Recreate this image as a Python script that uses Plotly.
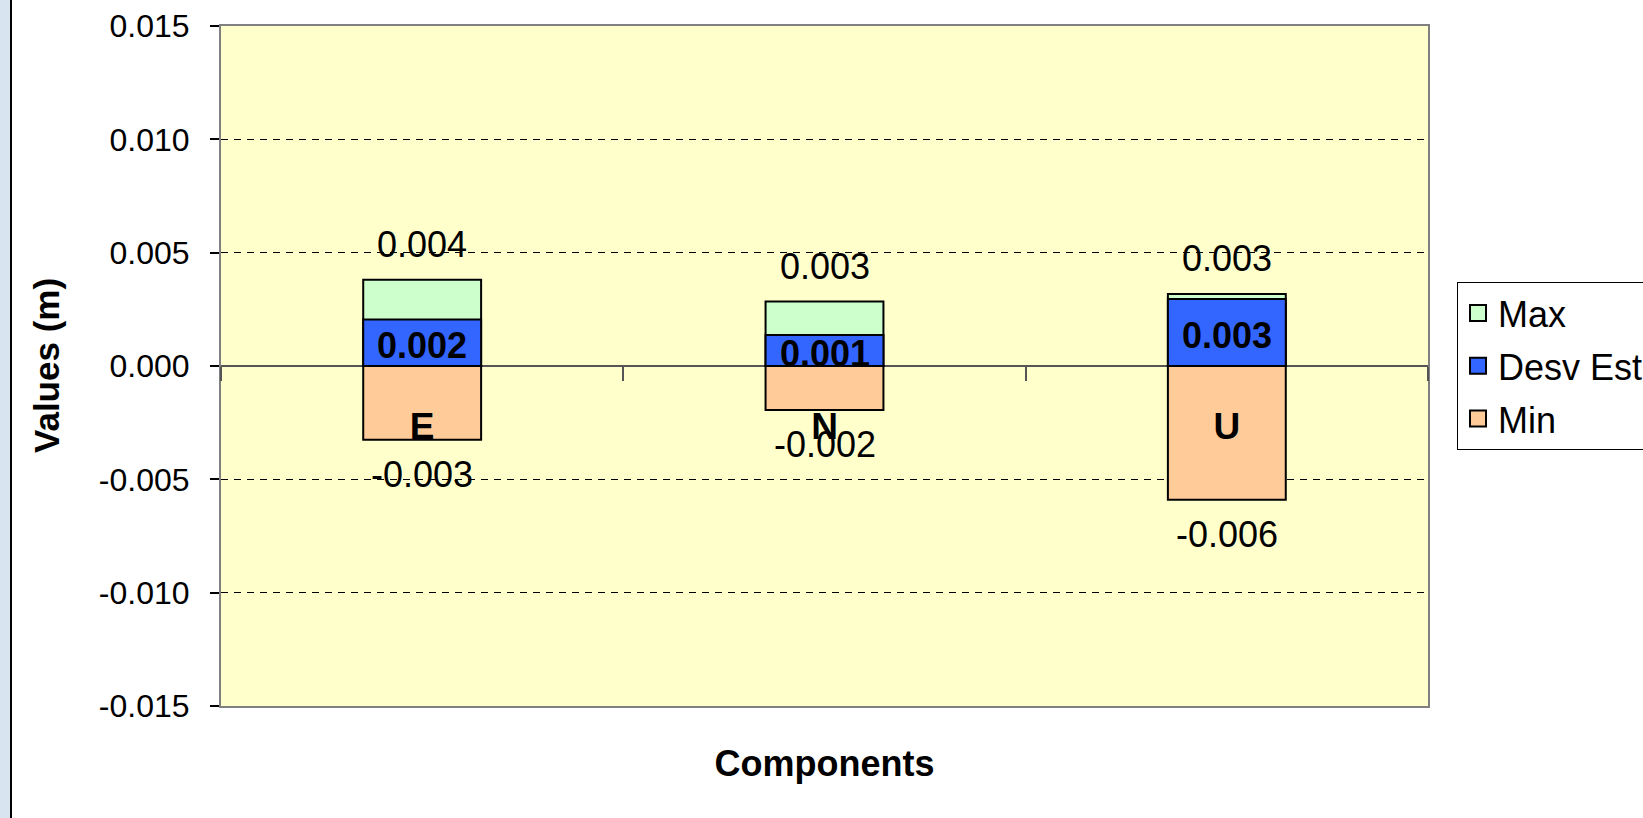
import plotly.graph_objects as go

# ---- data ----
categories = ["E", "N", "U"]
max_vals = [0.0038, 0.00285, 0.00318]
desv_vals = [0.00205, 0.00137, 0.00296]
min_vals = [-0.00325, -0.00194, -0.0059]

y_tickvals = [-0.015, -0.010, -0.005, 0.0, 0.005, 0.010, 0.015]
y_ticktext = ["-0.015", "-0.010", "-0.005", "0.000", "0.005", "0.010", "0.015"]

series_names = ["Max", "Desv Est", "Min"]
series_colors = ["#CCFFCC", "#3366FF", "#FFCC99"]

FONT = "Liberation Sans, Arial, sans-serif"
W, H = 1643, 818
ML, MR, MT, MB = 221, 215, 26, 112
PW = W - ML - MR
ymin, ymax = -0.015, 0.015

fig = go.Figure()

series_vals = [max_vals, desv_vals, min_vals]
for name, vals, col in zip(series_names, series_vals, series_colors):
    fig.add_trace(go.Bar(
        x=categories, y=vals, name=name,
        marker=dict(color=col, line=dict(color="black", width=2)),
        showlegend=False, hoverinfo="x+y+name",
    ))

# legend entries (square swatches)
for i, (name, col) in enumerate(zip(series_names, series_colors)):
    fig.add_trace(go.Scatter(
        x=[None], y=[None], mode="markers", name=name,
        legendgroup="g%d" % i,
        marker=dict(symbol="square", size=16, color=col,
                    line=dict(color="black", width=2)),
        hoverinfo="skip",
    ))

# dummy trace for the category axis crossing at zero
fig.add_trace(go.Scatter(
    x=categories, y=[None] * len(categories), xaxis="x2", yaxis="y",
    mode="markers", showlegend=False, hoverinfo="skip",
))

annotations = []
for c, v in zip(categories, max_vals):
    annotations.append(dict(x=c, y=v, xref="x", yref="y", text="%.3f" % v,
                            showarrow=False, yanchor="middle", yshift=35,
                            font=dict(family=FONT, size=36, color="black")))
for c, v in zip(categories, min_vals):
    annotations.append(dict(x=c, y=v, xref="x", yref="y",
                            text=("%.3f" % v).replace("\u2212", "-"),
                            showarrow=False, yanchor="middle", yshift=-35,
                            font=dict(family=FONT, size=36, color="black")))
for c, v in zip(categories, desv_vals):
    annotations.append(dict(x=c, y=v / 2, xref="x", yref="y",
                            text="<b>%.3f</b>" % v,
                            showarrow=False, yanchor="middle", yshift=-3,
                            font=dict(family=FONT, size=36, color="black")))

# y axis title (rotated)
annotations.append(dict(
    x=(46 - ML) / PW, y=0.5, xref="paper", yref="paper",
    text="<b>Values (m)</b>", textangle=-90, showarrow=False,
    xanchor="center", yanchor="middle",
    font=dict(family=FONT, size=35, color="black"),
))

zero_pos = (0 - ymin) / (ymax - ymin)

fig.update_layout(
    width=W, height=H,
    margin=dict(l=ML, r=MR, t=MT, b=MB, autoexpand=False),
    paper_bgcolor="white",
    plot_bgcolor="#FFFFCC",
    barmode="overlay",
    bargap=0.707,
    font=dict(family=FONT, color="black"),
    xaxis=dict(
        type="category", categoryorder="array", categoryarray=categories,
        range=[-0.5, len(categories) - 0.5],
        showticklabels=False, ticks="", showgrid=False, zeroline=False,
        showline=True, mirror=True, linecolor="#808080", linewidth=2,
        title=dict(text="<b>Components</b>", standoff=44,
                   font=dict(family=FONT, size=36, color="black")),
    ),
    xaxis2=dict(
        type="category", categoryorder="array", categoryarray=categories,
        range=[-0.5, len(categories) - 0.5],
        overlaying="x", anchor="free", position=zero_pos, side="bottom",
        tickson="boundaries", ticks="outside", ticklen=14, tickwidth=2,
        tickcolor="#555555", showgrid=False, showline=False, zeroline=False,
        tickfont=dict(family=FONT, size=37, color="black"),
        ticklabelstandoff=35,
        tickprefix="<b>", ticksuffix="</b>",
    ),
    yaxis=dict(
        range=[ymin, ymax],
        tickvals=y_tickvals, ticktext=y_ticktext,
        ticks="outside", ticklen=9, tickwidth=1.5, tickcolor="black",
        ticklabelstandoff=14,
        tickfont=dict(family=FONT, size=32, color="black"),
        showgrid=True, gridcolor="black", gridwidth=1, griddash="7px,6px",
        zeroline=True, zerolinecolor="#555555", zerolinewidth=1.5,
        showline=True, mirror=True, linecolor="#808080", linewidth=2,
    ),
    legend=dict(
        xref="container", yref="container",
        x=1457 / W, y=1 - 282 / H, xanchor="left", yanchor="top",
        bgcolor="white", bordercolor="black", borderwidth=1,
        font=dict(family=FONT, size=36, color="black"),
        traceorder="grouped", tracegroupgap=3,
    ),
    annotations=annotations,
    shapes=[
        dict(type="rect", xref="paper", yref="paper",
             x0=(0 - ML) / PW, x1=(10 - ML) / PW,
             y0=-1, y1=2, fillcolor="#D8E4F0", line=dict(width=0), layer="below"),
        dict(type="line", xref="paper", yref="paper",
             x0=(11 - ML) / PW, x1=(11 - ML) / PW,
             y0=-1, y1=2, line=dict(color="black", width=2)),
    ],
)

fig.write_html("out.html",
               config={"displayModeBar": False},
               post_script="document.body.style.margin='0';"
                           "document.body.style.overflow='hidden';")
